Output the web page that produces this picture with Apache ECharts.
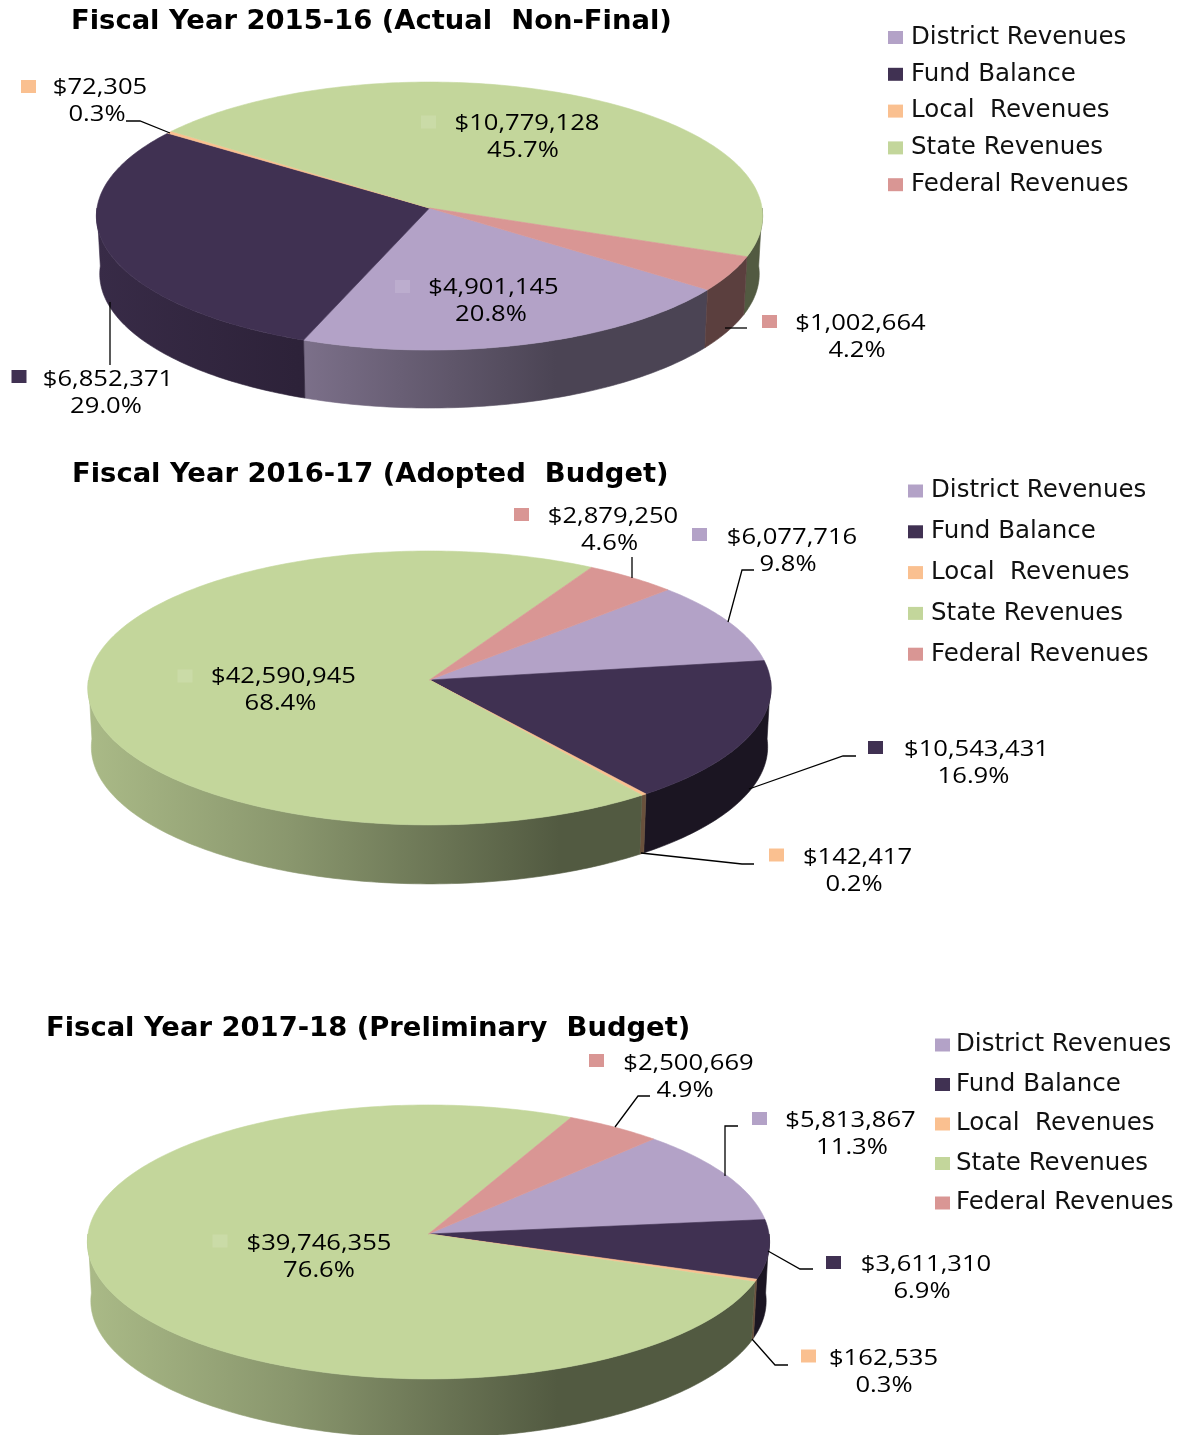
<!DOCTYPE html>
<html>
<head>
<meta charset="utf-8">
<title>Revenues by Fiscal Year</title>
<script src="https://cdn.jsdelivr.net/npm/echarts@6/dist/echarts.min.js"></script>
<style>
  html, body { margin: 0; padding: 0; background: #fff; }
  #chart { width: 1190px; height: 1435px; }
</style>
</head>
<body>
<div id="chart"></div>
<script>
// ===== 数据 =====
const categories = ['District Revenues', 'Fund Balance', 'Local  Revenues', 'State Revenues', 'Federal Revenues'];

const fy1516Title = 'Fiscal Year 2015-16 (Actual  Non-Final)';
const fy1516Values = [4901145, 6852371, 72305, 10779128, 1002664];
const fy1516Pcts = ['20.8%', '29.0%', '0.3%', '45.7%', '4.2%'];

const fy1617Title = 'Fiscal Year 2016-17 (Adopted  Budget)';
const fy1617Values = [6077716, 10543431, 142417, 42590945, 2879250];
const fy1617Pcts = ['9.8%', '16.9%', '0.2%', '68.4%', '4.6%'];

const fy1718Title = 'Fiscal Year 2017-18 (Preliminary  Budget)';
const fy1718Values = [5813867, 3611310, 162535, 39746355, 2500669];
const fy1718Pcts = ['11.3%', '6.9%', '0.3%', '76.6%', '4.9%'];

// ===== 样式 =====
const COLORS = ['#b3a2c7', '#403152', '#fac090', '#c3d69b', '#d99694'];
const LABEL_FONT = '"Open Sans", sans-serif';
const LABEL_SIZE = 21.5;
const LABEL_STRETCH = 1.19;
const BOTTOM_SCALE = 0.99;

// 侧面明暗：从左到右由亮变暗
const WALL_SHADE = [[0, 0.87], [0.3, 0.7], [0.69, 0.42], [1, 0.42]];

// ===== 版面 =====
// 每个标签：色块中心、金额中心、百分比中心、引线（顺序与 categories 一致）
const fy1516Layout = {
  cx: 429.5, cy: 208, rx: 332.5, ry: 133.5, persp: 0.06, depth: 58, startDeg: 36.2,
  titleLeft: 71, titleTop: 8,
  legend: { left: 888, top: 25, gap: 37, font: 24.5, textPad: 3 },
  labels: [
    { key: [402.5, 286.5], money: [493.5, 288], pct: [491, 315], inner: true },
    { key: [19, 376.5], money: [108, 380], pct: [106, 407], line: [[110, 302], [110, 365]] },
    { key: [28.5, 86.5], money: [100, 88], pct: [97, 115], line: [[126, 121], [140, 121], [170, 133]] },
    { key: [428.5, 122], money: [527, 124], pct: [523, 151], inner: true },
    { key: [769.5, 321.5], money: [860.5, 324], pct: [857, 351], line: [[725, 328], [747, 328]] },
  ],
};

const fy1617Layout = {
  cx: 429.5, cy: 680, rx: 341, ry: 136.5, persp: 0.058, depth: 59, startDeg: -43.4,
  titleLeft: 72, titleTop: 461,
  legend: { left: 908, top: 478.5, gap: 41, font: 24.5, textPad: 3 },
  labels: [
    { key: [699.5, 534.5], money: [792, 538], pct: [788, 565], line: [[728, 622], [742, 570], [754, 570]] },
    { key: [875.5, 747.5], money: [976.5, 750], pct: [973.5, 777], line: [[749, 789], [843, 756], [856, 756]] },
    { key: [776.5, 855], money: [857.5, 858], pct: [854, 885], line: [[641, 853], [742, 864], [754, 864]] },
    { key: [185, 676], money: [283.5, 677], pct: [280.5, 704], inner: true },
    { key: [521.5, 514.5], money: [613, 517], pct: [609.5, 544], line: [[632, 557], [632, 578]] },
  ],
};

const fy1718Layout = {
  cx: 428.5, cy: 1234, rx: 340.5, ry: 136.5, persp: 0.058, depth: 59, startDeg: -46.5,
  titleLeft: 46, titleTop: 1015,
  legend: { left: 935, top: 1032.5, gap: 39.7, font: 24.5, textPad: 1 },
  labels: [
    { key: [759.5, 1118.5], money: [850.5, 1121], pct: [852, 1148], line: [[725, 1176], [725, 1126], [738, 1126]] },
    { key: [833.5, 1262.5], money: [926, 1265], pct: [922, 1292], line: [[768, 1251], [800, 1269], [813, 1269]] },
    { key: [808.5, 1356], money: [883.5, 1359], pct: [884, 1386], line: [[752, 1339], [775, 1365], [788, 1365]] },
    { key: [220, 1241], money: [319, 1244], pct: [319, 1271], inner: true },
    { key: [596.5, 1060.5], money: [688.5, 1064], pct: [685, 1091], line: [[615, 1127], [638, 1096], [650, 1096]] },
  ],
};

const pies = [
  { title: fy1516Title, values: fy1516Values, pcts: fy1516Pcts, layout: fy1516Layout },
  { title: fy1617Title, values: fy1617Values, pcts: fy1617Pcts, layout: fy1617Layout },
  { title: fy1718Title, values: fy1718Values, pcts: fy1718Pcts, layout: fy1718Layout },
];

// ===== 工具函数 =====
const hexToRgb = (hex) => [1, 3, 5].map((i) => parseInt(hex.slice(i, i + 2), 16));

const shade = (hex, f) => {
  const [r, g, b] = hexToRgb(hex);
  return `rgb(${Math.round(r * f)}, ${Math.round(g * f)}, ${Math.round(b * f)})`;
};

const lighten = (hex, t) => {
  const [r, g, b] = hexToRgb(hex);
  const mix = (c) => Math.round(c + (255 - c) * t);
  return `rgb(${mix(r)}, ${mix(g)}, ${mix(b)})`;
};

// 圆盘上的角度 -> 屏幕坐标（带透视，近处略大）
const rimPoint = (geo, deg) => {
  const a = (deg * Math.PI) / 180;
  const w = 1 - geo.persp * Math.sin(a);
  return [geo.cx + (geo.rx * Math.cos(a)) / w, geo.cy + (geo.ry * Math.sin(a)) / w];
};

const arcPoints = (geo, from, to) => {
  const pts = [];
  const steps = Math.max(2, Math.ceil(Math.abs(to - from)));
  for (let i = 0; i <= steps; i++) {
    pts.push(rimPoint(geo, from + ((to - from) * i) / steps));
  }
  return pts;
};

const wallGradient = (geo, hex) => new echarts.graphic.LinearGradient(
  geo.cx - geo.rx, 0, geo.cx + geo.rx, 0,
  WALL_SHADE.map(([offset, f]) => ({ offset, color: shade(hex, f) })),
  true
);

const labelText = (text, [x, y]) => ({
  type: 'text',
  x,
  y,
  scaleX: LABEL_STRETCH,
  z2: 30,
  style: {
    text,
    fontFamily: LABEL_FONT,
    fontSize: LABEL_SIZE,
    fill: '#000',
    align: 'center',
    verticalAlign: 'middle',
  },
});

// 画一块扇形：正面侧壁 + 顶面 + 标签
const makeRenderItem = (pie, index) => {
  const geo = pie.layout;
  const label = geo.labels[index];
  const hex = COLORS[index];
  const total = pie.values.reduce((s, v) => s + v, 0);
  const before = pie.values.slice(0, index).reduce((s, v) => s + v, 0);

  return (params, api) => {
    const from = geo.startDeg + (before / total) * 360;
    const to = from + (api.value(0) / total) * 360;
    const children = [];

    // 只有朝向观众的半圈才露出侧壁
    [-360, 0, 360].forEach((base) => {
      const a = Math.max(from, base);
      const b = Math.min(to, base + 180);
      if (b <= a) return;
      const upper = arcPoints(geo, a, b);
      const lower = upper.map(([x, y]) => [geo.cx + (x - geo.cx) * BOTTOM_SCALE, y + geo.depth]).reverse();
      const fill = wallGradient(geo, hex);
      children.push({
        type: 'polygon',
        z2: 1,
        shape: { points: upper.concat(lower) },
        style: { fill, stroke: fill, lineWidth: 0.6 },
      });
    });

    children.push({
      type: 'polygon',
      z2: 10 + index,
      shape: { points: [[geo.cx, geo.cy]].concat(arcPoints(geo, from, to)) },
      style: { fill: hex, stroke: hex, lineWidth: 0.6 },
    });

    if (label.line) {
      children.push({
        type: 'polyline',
        z2: 25,
        shape: { points: label.line },
        style: { stroke: '#000', lineWidth: 1.3, fill: 'none' },
      });
    }

    children.push({
      type: 'rect',
      z2: 26,
      shape: { x: label.key[0] - 7.5, y: label.key[1] - 6.5, width: 15, height: 13 },
      style: { fill: label.inner ? lighten(hex, 0.12) : hex },
    });
    children.push(labelText('$' + api.value(0).toLocaleString('en-US'), label.money));
    children.push(labelText(pie.pcts[index], label.pct));

    return { type: 'group', children };
  };
};

// ===== 图表 =====
const chart = echarts.init(document.getElementById('chart'), null, { renderer: 'canvas' });

chart.setOption({
  animation: false,
  backgroundColor: '#fff',
  title: pies.map((pie) => ({
    text: pie.title,
    left: pie.layout.titleLeft,
    top: pie.layout.titleTop,
    padding: 0,
    textStyle: { fontFamily: '"DejaVu Sans", sans-serif', fontWeight: 700, fontSize: 27.4, color: '#000' },
  })),
  legend: pies.map((pie) => ({
    data: categories,
    orient: 'vertical',
    left: pie.layout.legend.left,
    top: pie.layout.legend.top,
    padding: 0,
    itemGap: pie.layout.legend.gap - 25.2,
    itemWidth: 15,
    itemHeight: 13,
    icon: 'rect',
    selectedMode: false,
    textStyle: {
      fontFamily: '"DejaVu Sans", sans-serif',
      fontSize: pie.layout.legend.font,
      color: '#111',
      padding: [0, 0, 0, pie.layout.legend.textPad],
      height: 24,
      lineHeight: 24,
    },
  })),
  series: pies.flatMap((pie) => categories.map((name, i) => ({
    type: 'custom',
    name,
    coordinateSystem: 'none',
    silent: true,
    itemStyle: { color: COLORS[i] },
    data: [[pie.values[i]]],
    renderItem: makeRenderItem(pie, i),
  }))),
});
</script>
</body>
</html>
